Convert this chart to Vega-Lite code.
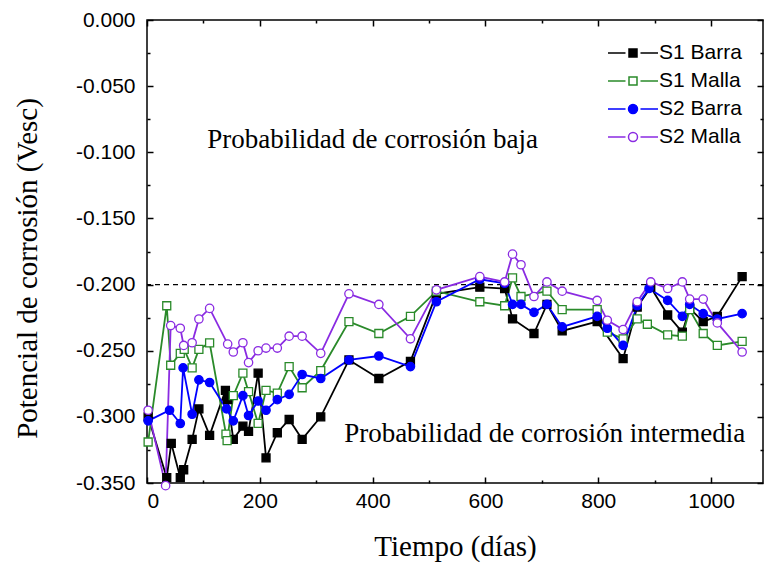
{
  "$schema": "https://vega.github.io/schema/vega-lite/v6.json",
  "width": 616,
  "height": 463,
  "autosize": {"type": "none"},
  "padding": {"left": 147, "top": 20, "right": 2, "bottom": 87},
  "background": "white",
  "config": {
    "view": {"stroke": "black", "strokeWidth": 1.5},
    "axis": {"grid": false, "domain": false, "tickColor": "black", "labelColor": "black", "titleColor": "black", "labelFont": "Liberation Sans", "labelFontSize": 21, "titleFont": "Liberation Serif", "titleFontSize": 29, "titleFontWeight": "normal", "tickWidth": 1.5}
  },
  "datasets": {
    "series": [
      {"s": "S1 Barra", "d": 2, "v": -0.300},
      {"s": "S1 Barra", "d": 35, "v": -0.346},
      {"s": "S1 Barra", "d": 43, "v": -0.320},
      {"s": "S1 Barra", "d": 59, "v": -0.346},
      {"s": "S1 Barra", "d": 65, "v": -0.340},
      {"s": "S1 Barra", "d": 80, "v": -0.317},
      {"s": "S1 Barra", "d": 92, "v": -0.294},
      {"s": "S1 Barra", "d": 111, "v": -0.314},
      {"s": "S1 Barra", "d": 139, "v": -0.280},
      {"s": "S1 Barra", "d": 143, "v": -0.287},
      {"s": "S1 Barra", "d": 153, "v": -0.317},
      {"s": "S1 Barra", "d": 170, "v": -0.307},
      {"s": "S1 Barra", "d": 180, "v": -0.311},
      {"s": "S1 Barra", "d": 197, "v": -0.267},
      {"s": "S1 Barra", "d": 211, "v": -0.331},
      {"s": "S1 Barra", "d": 231, "v": -0.312},
      {"s": "S1 Barra", "d": 252, "v": -0.302},
      {"s": "S1 Barra", "d": 275, "v": -0.317},
      {"s": "S1 Barra", "d": 308, "v": -0.300},
      {"s": "S1 Barra", "d": 358, "v": -0.257},
      {"s": "S1 Barra", "d": 411, "v": -0.271},
      {"s": "S1 Barra", "d": 467, "v": -0.258},
      {"s": "S1 Barra", "d": 513, "v": -0.207},
      {"s": "S1 Barra", "d": 590, "v": -0.202},
      {"s": "S1 Barra", "d": 634, "v": -0.203},
      {"s": "S1 Barra", "d": 648, "v": -0.226},
      {"s": "S1 Barra", "d": 686, "v": -0.237},
      {"s": "S1 Barra", "d": 709, "v": -0.215},
      {"s": "S1 Barra", "d": 736, "v": -0.235},
      {"s": "S1 Barra", "d": 798, "v": -0.228},
      {"s": "S1 Barra", "d": 844, "v": -0.256},
      {"s": "S1 Barra", "d": 869, "v": -0.217},
      {"s": "S1 Barra", "d": 893, "v": -0.202},
      {"s": "S1 Barra", "d": 923, "v": -0.223},
      {"s": "S1 Barra", "d": 949, "v": -0.236},
      {"s": "S1 Barra", "d": 962, "v": -0.218},
      {"s": "S1 Barra", "d": 986, "v": -0.228},
      {"s": "S1 Barra", "d": 1011, "v": -0.224},
      {"s": "S1 Barra", "d": 1055, "v": -0.194},
      {"s": "S1 Malla", "d": 2, "v": -0.319},
      {"s": "S1 Malla", "d": 35, "v": -0.216},
      {"s": "S1 Malla", "d": 42, "v": -0.261},
      {"s": "S1 Malla", "d": 59, "v": -0.252},
      {"s": "S1 Malla", "d": 66, "v": -0.249},
      {"s": "S1 Malla", "d": 80, "v": -0.263},
      {"s": "S1 Malla", "d": 92, "v": -0.249},
      {"s": "S1 Malla", "d": 111, "v": -0.244},
      {"s": "S1 Malla", "d": 140, "v": -0.313},
      {"s": "S1 Malla", "d": 142, "v": -0.318},
      {"s": "S1 Malla", "d": 153, "v": -0.284},
      {"s": "S1 Malla", "d": 170, "v": -0.267},
      {"s": "S1 Malla", "d": 180, "v": -0.281},
      {"s": "S1 Malla", "d": 197, "v": -0.305},
      {"s": "S1 Malla", "d": 211, "v": -0.280},
      {"s": "S1 Malla", "d": 231, "v": -0.282},
      {"s": "S1 Malla", "d": 252, "v": -0.262},
      {"s": "S1 Malla", "d": 275, "v": -0.278},
      {"s": "S1 Malla", "d": 308, "v": -0.265},
      {"s": "S1 Malla", "d": 358, "v": -0.228},
      {"s": "S1 Malla", "d": 411, "v": -0.237},
      {"s": "S1 Malla", "d": 467, "v": -0.224},
      {"s": "S1 Malla", "d": 513, "v": -0.205},
      {"s": "S1 Malla", "d": 590, "v": -0.213},
      {"s": "S1 Malla", "d": 634, "v": -0.216},
      {"s": "S1 Malla", "d": 648, "v": -0.195},
      {"s": "S1 Malla", "d": 663, "v": -0.209},
      {"s": "S1 Malla", "d": 709, "v": -0.205},
      {"s": "S1 Malla", "d": 736, "v": -0.219},
      {"s": "S1 Malla", "d": 798, "v": -0.219},
      {"s": "S1 Malla", "d": 816, "v": -0.236},
      {"s": "S1 Malla", "d": 844, "v": -0.241},
      {"s": "S1 Malla", "d": 869, "v": -0.226},
      {"s": "S1 Malla", "d": 887, "v": -0.230},
      {"s": "S1 Malla", "d": 923, "v": -0.238},
      {"s": "S1 Malla", "d": 949, "v": -0.239},
      {"s": "S1 Malla", "d": 962, "v": -0.219},
      {"s": "S1 Malla", "d": 986, "v": -0.237},
      {"s": "S1 Malla", "d": 1011, "v": -0.246},
      {"s": "S1 Malla", "d": 1055, "v": -0.243},
      {"s": "S2 Barra", "d": 2, "v": -0.303},
      {"s": "S2 Barra", "d": 40, "v": -0.295},
      {"s": "S2 Barra", "d": 59, "v": -0.305},
      {"s": "S2 Barra", "d": 64, "v": -0.263},
      {"s": "S2 Barra", "d": 80, "v": -0.298},
      {"s": "S2 Barra", "d": 92, "v": -0.272},
      {"s": "S2 Barra", "d": 111, "v": -0.274},
      {"s": "S2 Barra", "d": 141, "v": -0.294},
      {"s": "S2 Barra", "d": 153, "v": -0.303},
      {"s": "S2 Barra", "d": 170, "v": -0.284},
      {"s": "S2 Barra", "d": 180, "v": -0.299},
      {"s": "S2 Barra", "d": 197, "v": -0.288},
      {"s": "S2 Barra", "d": 211, "v": -0.295},
      {"s": "S2 Barra", "d": 231, "v": -0.287},
      {"s": "S2 Barra", "d": 252, "v": -0.283},
      {"s": "S2 Barra", "d": 275, "v": -0.268},
      {"s": "S2 Barra", "d": 308, "v": -0.271},
      {"s": "S2 Barra", "d": 358, "v": -0.257},
      {"s": "S2 Barra", "d": 411, "v": -0.254},
      {"s": "S2 Barra", "d": 467, "v": -0.262},
      {"s": "S2 Barra", "d": 513, "v": -0.213},
      {"s": "S2 Barra", "d": 590, "v": -0.196},
      {"s": "S2 Barra", "d": 634, "v": -0.199},
      {"s": "S2 Barra", "d": 648, "v": -0.215},
      {"s": "S2 Barra", "d": 663, "v": -0.215},
      {"s": "S2 Barra", "d": 686, "v": -0.221},
      {"s": "S2 Barra", "d": 709, "v": -0.215},
      {"s": "S2 Barra", "d": 736, "v": -0.232},
      {"s": "S2 Barra", "d": 798, "v": -0.224},
      {"s": "S2 Barra", "d": 816, "v": -0.233},
      {"s": "S2 Barra", "d": 844, "v": -0.246},
      {"s": "S2 Barra", "d": 869, "v": -0.216},
      {"s": "S2 Barra", "d": 890, "v": -0.203},
      {"s": "S2 Barra", "d": 923, "v": -0.212},
      {"s": "S2 Barra", "d": 949, "v": -0.224},
      {"s": "S2 Barra", "d": 962, "v": -0.215},
      {"s": "S2 Barra", "d": 986, "v": -0.222},
      {"s": "S2 Barra", "d": 1011, "v": -0.226},
      {"s": "S2 Barra", "d": 1055, "v": -0.222},
      {"s": "S2 Malla", "d": 2, "v": -0.295},
      {"s": "S2 Malla", "d": 33, "v": -0.352},
      {"s": "S2 Malla", "d": 42, "v": -0.231},
      {"s": "S2 Malla", "d": 59, "v": -0.233},
      {"s": "S2 Malla", "d": 65, "v": -0.246},
      {"s": "S2 Malla", "d": 80, "v": -0.244},
      {"s": "S2 Malla", "d": 92, "v": -0.226},
      {"s": "S2 Malla", "d": 111, "v": -0.218},
      {"s": "S2 Malla", "d": 143, "v": -0.245},
      {"s": "S2 Malla", "d": 153, "v": -0.251},
      {"s": "S2 Malla", "d": 170, "v": -0.244},
      {"s": "S2 Malla", "d": 180, "v": -0.259},
      {"s": "S2 Malla", "d": 197, "v": -0.250},
      {"s": "S2 Malla", "d": 211, "v": -0.248},
      {"s": "S2 Malla", "d": 231, "v": -0.248},
      {"s": "S2 Malla", "d": 252, "v": -0.239},
      {"s": "S2 Malla", "d": 275, "v": -0.239},
      {"s": "S2 Malla", "d": 308, "v": -0.252},
      {"s": "S2 Malla", "d": 358, "v": -0.207},
      {"s": "S2 Malla", "d": 411, "v": -0.215},
      {"s": "S2 Malla", "d": 467, "v": -0.241},
      {"s": "S2 Malla", "d": 513, "v": -0.204},
      {"s": "S2 Malla", "d": 590, "v": -0.194},
      {"s": "S2 Malla", "d": 634, "v": -0.198},
      {"s": "S2 Malla", "d": 648, "v": -0.177},
      {"s": "S2 Malla", "d": 663, "v": -0.185},
      {"s": "S2 Malla", "d": 686, "v": -0.209},
      {"s": "S2 Malla", "d": 709, "v": -0.198},
      {"s": "S2 Malla", "d": 736, "v": -0.205},
      {"s": "S2 Malla", "d": 798, "v": -0.212},
      {"s": "S2 Malla", "d": 816, "v": -0.227},
      {"s": "S2 Malla", "d": 844, "v": -0.234},
      {"s": "S2 Malla", "d": 869, "v": -0.213},
      {"s": "S2 Malla", "d": 893, "v": -0.198},
      {"s": "S2 Malla", "d": 923, "v": -0.203},
      {"s": "S2 Malla", "d": 949, "v": -0.198},
      {"s": "S2 Malla", "d": 962, "v": -0.211},
      {"s": "S2 Malla", "d": 986, "v": -0.211},
      {"s": "S2 Malla", "d": 1011, "v": -0.229},
      {"s": "S2 Malla", "d": 1055, "v": -0.251}
    ],
    "notes": [
      {"d": 400, "v": -0.091, "t": "Probabilidad de corrosión baja"},
      {"d": 705, "v": -0.313, "t": "Probabilidad de corrosión intermedia"}
    ],
    "ref": [{"v": -0.2}]
  },
  "layer": [
    {
      "data": {"name": "ref"},
      "mark": {"type": "rule", "strokeDash": [5, 4], "strokeWidth": 1.3, "color": "black"},
      "encoding": {
        "y": {"field": "v", "type": "quantitative", "scale": {"domain": [-0.35, 0], "nice": false, "zero": false}, "axis": null}
      }
    },
    {
      "data": {"name": "series"},
      "mark": {"type": "line", "strokeWidth": 1.8, "clip": true},
      "encoding": {
        "x": {"field": "d", "type": "quantitative", "scale": {"domain": [0, 1092], "nice": false, "zero": false},
          "axis": {"orient": "bottom", "title": "Tiempo (días)", "values": [0, 100, 200, 300, 400, 500, 600, 700, 800, 900, 1000],
            "labelExpr": "datum.value % 200 === 0 ? format(datum.value, 'd') : ''",
            "tickSize": {"condition": {"test": "datum.value % 200 === 0", "value": -6}, "value": -3},
            "labelPadding": 13, "titlePadding": 21}},
        "y": {"field": "v", "type": "quantitative", "scale": {"domain": [-0.35, 0], "nice": false, "zero": false},
          "axis": {"orient": "left", "title": "Potencial de corrosión (Vesc)", "titleY": 248, "values": [0, -0.025, -0.05, -0.075, -0.1, -0.125, -0.15, -0.175, -0.2, -0.225, -0.25, -0.275, -0.3, -0.325, -0.35],
            "labelExpr": "abs(round(datum.value * 1000)) % 50 === 0 ? replace(format(datum.value, '.3f'), '\u2212', '-') : ''",
            "tickSize": {"condition": {"test": "abs(round(datum.value * 1000)) % 50 === 0", "value": -6}, "value": -3},
            "labelPadding": 18, "titlePadding": 33}},
        "color": {"field": "s", "type": "nominal",
          "scale": {"domain": ["S1 Barra", "S1 Malla", "S2 Barra", "S2 Malla"], "range": ["#000000", "#2a8a2a", "#0000ff", "#8a2be2"]},
          "legend": {
            "orient": "none", "legendX": 475, "legendY": 22, "title": null, "padding": 0,
            "labelFont": "Liberation Sans", "labelFontSize": 21, "labelColor": "black",
            "symbolSize": 400, "symbolStrokeWidth": 1.5, "labelOffset": 15, "rowPadding": 7,
            "encode": {"symbols": {"update": {
              "shape": {"signal": "(datum.value === 'S1 Barra' || datum.value === 'S1 Malla') ? 'M-2.5,0H-0.75M0.75,0H2.5M-0.4,-0.4H0.4V0.4H-0.4Z' : 'M-2.5,0H-0.75M0.75,0H2.5M-0.45,0A0.45,0.45 0 1,0 0.45,0A0.45,0.45 0 1,0 -0.45,0Z'"},
              "fill": {"signal": "datum.value === 'S1 Barra' ? '#000000' : (datum.value === 'S2 Barra' ? '#0000ff' : '#ffffff')"},
              "strokeWidth": {"value": 1.5}
            }}}
          }},
        "detail": {"field": "s"}
      }
    },
    {
      "data": {"name": "series"},
      "transform": [{"filter": "datum.s === 'S1 Barra' || datum.s === 'S1 Malla'"}],
      "mark": {"type": "point", "shape": "square", "size": 64, "strokeWidth": 1.3, "opacity": 1},
      "encoding": {
        "x": {"field": "d", "type": "quantitative", "scale": {"domain": [0, 1092], "nice": false, "zero": false}, "axis": null},
        "y": {"field": "v", "type": "quantitative", "scale": {"domain": [-0.35, 0], "nice": false, "zero": false}, "axis": null},
        "stroke": {"field": "s", "type": "nominal", "scale": {"domain": ["S1 Barra", "S1 Malla", "S2 Barra", "S2 Malla"], "range": ["#000000", "#2a8a2a", "#0000ff", "#8a2be2"]}, "legend": null},
        "fill": {"field": "s", "type": "nominal", "scale": {"domain": ["S1 Barra", "S1 Malla", "S2 Barra", "S2 Malla"], "range": ["#000000", "#ffffff", "#0000ff", "#ffffff"]}, "legend": null}
      }
    },
    {
      "data": {"name": "series"},
      "transform": [{"filter": "datum.s === 'S2 Barra' || datum.s === 'S2 Malla'"}],
      "mark": {"type": "point", "shape": "circle", "size": 70, "strokeWidth": 1.3, "opacity": 1},
      "encoding": {
        "x": {"field": "d", "type": "quantitative", "scale": {"domain": [0, 1092], "nice": false, "zero": false}, "axis": null},
        "y": {"field": "v", "type": "quantitative", "scale": {"domain": [-0.35, 0], "nice": false, "zero": false}, "axis": null},
        "stroke": {"field": "s", "type": "nominal", "scale": {"domain": ["S1 Barra", "S1 Malla", "S2 Barra", "S2 Malla"], "range": ["#000000", "#2a8a2a", "#0000ff", "#8a2be2"]}, "legend": null},
        "fill": {"field": "s", "type": "nominal", "scale": {"domain": ["S1 Barra", "S1 Malla", "S2 Barra", "S2 Malla"], "range": ["#000000", "#ffffff", "#0000ff", "#ffffff"]}, "legend": null}
      }
    },
    {
      "data": {"name": "notes"},
      "mark": {"type": "text", "font": "Liberation Serif", "fontSize": 27, "color": "black", "align": "center", "baseline": "middle"},
      "encoding": {
        "x": {"field": "d", "type": "quantitative", "scale": {"domain": [0, 1092], "nice": false, "zero": false},
          "axis": {"orient": "top", "title": null, "labels": false, "values": [0, 100, 200, 300, 400, 500, 600, 700, 800, 900, 1000],
            "tickSize": {"condition": {"test": "datum.value % 200 === 0", "value": -6}, "value": -3}}},
        "y": {"field": "v", "type": "quantitative", "scale": {"domain": [-0.35, 0], "nice": false, "zero": false},
          "axis": {"orient": "right", "title": null, "labels": false, "values": [0, -0.025, -0.05, -0.075, -0.1, -0.125, -0.15, -0.175, -0.2, -0.225, -0.25, -0.275, -0.3, -0.325, -0.35],
            "tickSize": {"condition": {"test": "abs(round(datum.value * 1000)) % 50 === 0", "value": -6}, "value": -3}}},
        "text": {"field": "t"}
      }
    }
  ],
  "resolve": {"axis": {"x": "independent", "y": "independent"}}
}
